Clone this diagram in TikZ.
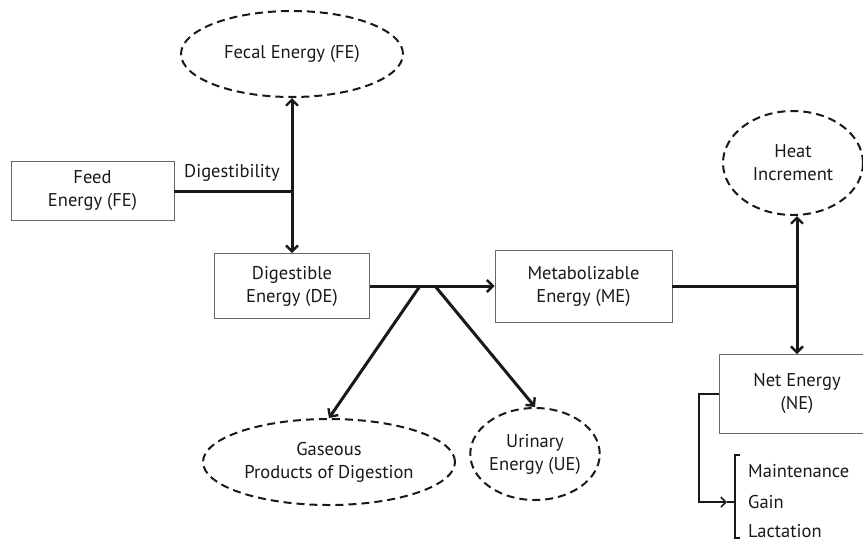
\documentclass[tikz,border=0pt]{standalone}
\usepackage{fontspec}
\setmainfont{PT Sans}
\usetikzlibrary{shapes.geometric,arrows.meta,calc}
\begin{document}
\begin{tikzpicture}[x=1pt,y=-1pt,
  font=\fontsize{18.5}{23}\selectfont,
  box/.style={draw=black!60,line width=0.9pt,rectangle,inner sep=0pt,align=center,text=black!90},
  oval/.style={draw=black!90,line width=2pt,dash pattern=on 8pt off 5pt,ellipse,inner sep=0pt,align=center,text=black!90},
  conn/.style={draw=black!90,line width=3pt},
  arr/.style={conn,-{Straight Barb[length=6pt,width=12pt,line width=2.4pt]}},
  lbl/.style={inner sep=0pt,text=black!90}]
\useasboundingbox (0,0) rectangle (863,550);
\node[oval,minimum width=222,minimum height=86] (fecal) at (292,54) {Fecal Energy (FE)};
\node[box,minimum width=163,minimum height=59] (feed) at (92.5,191) {Feed\\Energy (FE)};
\node[box,minimum width=155,minimum height=65] (de) at (292,286) {Digestible\\Energy (DE)};
\node[box,minimum width=177,minimum height=72] (me) at (583.5,286) {Metabolizable\\Energy (ME)};
\node[oval,minimum width=140,minimum height=104] (heat) at (793,163) {Heat\\Increment};
\node[box,minimum width=156,minimum height=79,anchor=north] (ne) at (797,354) {Net Energy\\(NE)};
\node[oval,minimum width=252,minimum height=86] (gas) at (329,462) {Gaseous\\Products of Digestion};
\node[oval,minimum width=126,minimum height=92] (ue) at (535,454) {Urinary\\Energy (UE)};
\node[lbl,anchor=west] (dig) at (184,173) {Digestibility};
\node[lbl,anchor=west] (mnt) at (748,471) {Maintenance};
\node[lbl,anchor=west] (gain) at (748,502) {Gain};
\node[lbl,anchor=west] (lac) at (748,531) {Lactation};
\coordinate (j1) at (292,191);
\coordinate (s1) at (420,286);
\coordinate (s2) at (435,286);
\coordinate (j2) at (797,286);
\coordinate (b1) at (699,394);
\coordinate (b2) at (699,502);
\coordinate (bt) at (727,502);
\coordinate (bk) at (735,502);
\draw[conn] (feed.east) -- (j1);
\draw[arr] (j1) -- (fecal.south);
\draw[arr] (j1) -- (de.north);
\draw[arr] (de.east) -- (me.west);
\draw[arr] (s1) -- (gas.north);
\draw[arr] (s2) -- (ue.north);
\draw[conn] (me.east) -- (j2);
\draw[arr] (j2) -- (j2 |- heat.south);
\draw[arr] (j2) -- (ne.north);
\draw[draw=black!90,line width=2pt,-{Straight Barb[length=5pt,width=10pt,line width=1.6pt]}] (ne.west |- b1) -- (b1) -- (b2) -- (bt);
\draw[draw=black!90,line width=1.6pt] (bt) -- (bk);
\draw[draw=black!90,line width=1.6pt] (740,455) -- (735,455) -- (735,538) -- (740,538);
\end{tikzpicture}
\end{document}
